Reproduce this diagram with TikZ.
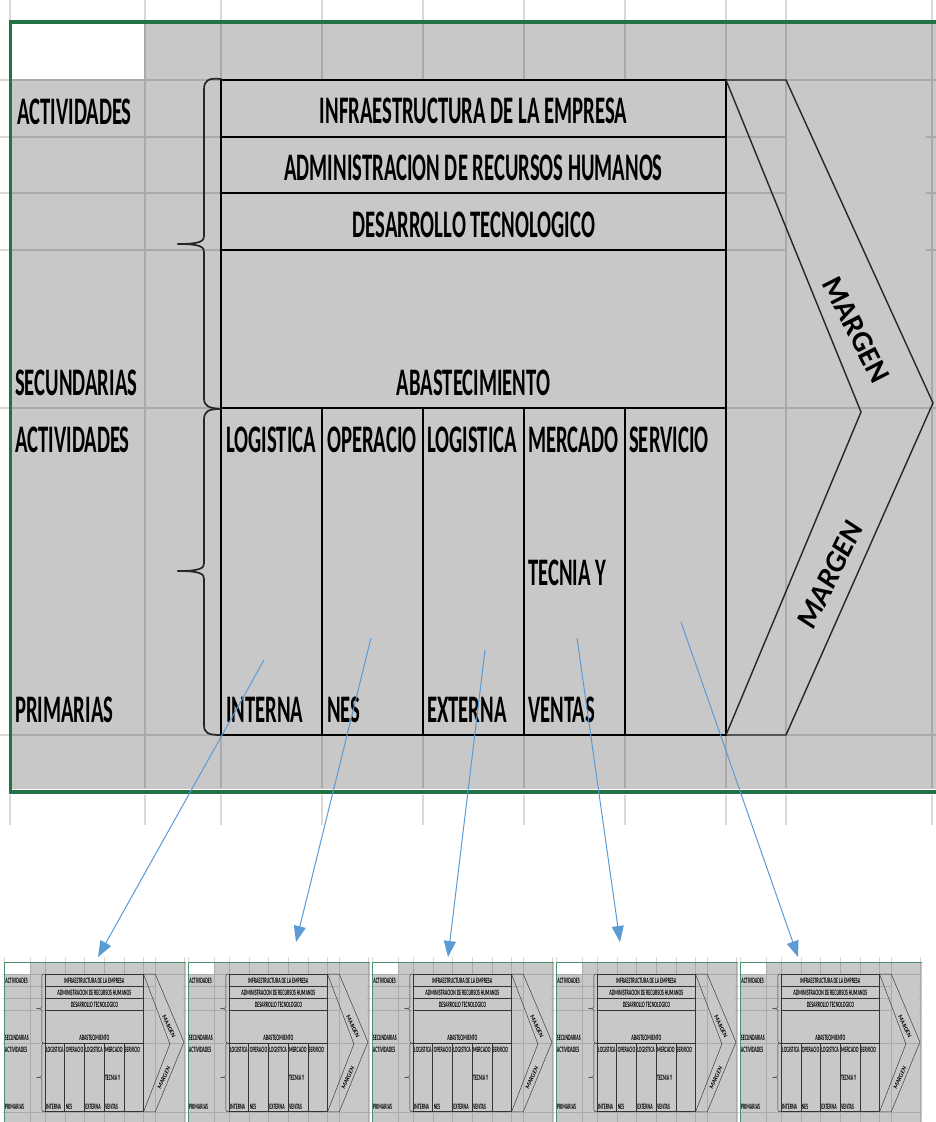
\documentclass[tikz,border=0pt]{standalone}
\usepackage{fontspec}
\setmainfont{Carlito}
\usepackage{graphicx}
\usetikzlibrary{arrows.meta}
\definecolor{cellgray}{HTML}{C8C8C8}
\definecolor{gridgray}{HTML}{AAAAAA}
\definecolor{outgray}{HTML}{D8D8D8}
\definecolor{xlgreen}{HTML}{217346}
\definecolor{arrowblue}{HTML}{5B9BD5}
\newcommand\cond[1]{\scalebox{0.53}[1]{#1}}
\tikzset{
 gridline/.style={draw=gridgray, line width=1.2pt},
 outgrid/.style={draw=outgray, line width=1.2pt},
 boxline/.style={draw=black, line width=2pt},
 chevline/.style={draw=black!85, line width=1.4pt},
 braceline/.style={draw=black!85, line width=1.7pt, line cap=round},
 greenline/.style={draw=xlgreen, line width=4pt},
 greenleft/.style={draw=xlgreen, line width=3pt},
 lbl/.style={inner sep=0pt, font=\bfseries\fontsize{39}{40}\selectfont},
 mlbl/.style={inner sep=0pt, font=\bfseries\fontsize{30}{32}\selectfont},
 flow/.style={draw=arrowblue, line width=1pt, -{Triangle[length=16pt,width=12pt]}},
}
\newcommand\vcdiag[1]{%
 \foreach \x in {10,145,221,322,423,524,625,726,786,932}{\draw[outgrid] (\x,0) -- (\x,22) (\x,795) -- (\x,825);}
 \foreach \y in {80,137,193,250,408,735}{\draw[outgrid] (0,\y) -- (10,\y);}
 \fill[cellgray] (11,23) rectangle (943,789);
 \fill[white] (11,23) rectangle (145,79);
 \foreach \x in {145,221,322,423,524,625,726,786,932}{\draw[gridline] (\x,24) -- (\x,788);}
 \foreach \y in {80,408,735}{\draw[gridline] (12,\y) -- (943,\y);}
 \foreach \y in {137,193,250}{\draw[gridline] (12,\y) -- (786,\y); \draw[gridline] (926,\y) -- (943,\y);}
 % main box
 \fill[cellgray] (221,80) rectangle (726,735);
 \draw[boxline] (221,80) rectangle (726,735);
 \draw[boxline] (221,137) -- (726,137) (221,193) -- (726,193) (221,250) -- (726,250) (221,408) -- (726,408);
 \draw[boxline] (322,408) -- (322,735) (423,408) -- (423,735) (524,408) -- (524,735) (625,408) -- (625,735);
 % chevron
 \draw[chevline, line join=miter] (726,80) -- (786,80) -- (933,403) -- (786,735) -- (726,735);
 \draw[chevline] (726,80) -- (861,412) -- (726,735);
 % braces
 \draw[braceline] (221,79) .. controls (208,78) and (204,80) .. (204,90) -- (204,236) .. controls (204,241) and (201,244) .. (178,244);
 \draw[braceline] (178,244) .. controls (201,244) and (204,247) .. (204,252) -- (204,398) .. controls (204,406) and (208,408) .. (221,409);
 \draw[braceline] (221,409) .. controls (208,409) and (204,411) .. (204,420) -- (204,563) .. controls (204,568) and (201,571) .. (178,571);
 \draw[braceline] (178,571) .. controls (201,571) and (204,574) .. (204,579) -- (204,725) .. controls (204,733) and (208,735) .. (221,735);
 % green frame
 \draw[greenline] (9,22) -- (945,22);
 \draw[greenline] (9,792) -- (945,792);
 \draw[greenleft] (10,20) -- (10,794);
 % left labels
 \node[lbl, anchor=base west] (#1-act1) at (17,124) {\cond{ACTIVIDADES}};
 \node[lbl, anchor=base west] (#1-sec) at (15,395) {\cond{SECUNDARIAS}};
 \node[lbl, anchor=base west] (#1-act2) at (15,452) {\cond{ACTIVIDADES}};
 \node[lbl, anchor=base west] (#1-prim) at (15,722) {\cond{PRIMARIAS}};
 % support activities
 \node[lbl, anchor=base] (#1-infra) at (473.5,123) {\cond{INFRAESTRUCTURA DE LA EMPRESA}};
 \node[lbl, anchor=base] (#1-rrhh) at (473.5,180) {\cond{ADMINISTRACION DE RECURSOS HUMANOS}};
 \node[lbl, anchor=base] (#1-tec) at (474,237) {\cond{DESARROLLO TECNOLOGICO}};
 \node[lbl, anchor=base] (#1-abas) at (473.5,395) {\cond{ABASTECIMIENTO}};
 % primary activities
 \node[lbl, anchor=base west] (#1-c1a) at (226,452) {\cond{LOGISTICA}};
 \node[lbl, anchor=base west] (#1-c2a) at (327,452) {\cond{OPERACIO}};
 \node[lbl, anchor=base west] (#1-c3a) at (427,452) {\cond{LOGISTICA}};
 \node[lbl, anchor=base west] (#1-c4a) at (528,452) {\cond{MERCADO}};
 \node[lbl, anchor=base west] (#1-c5a) at (629,452) {\cond{SERVICIO}};
 \node[lbl, anchor=base west] (#1-c4b) at (528,585) {\cond{TECNIA Y}};
 \node[lbl, anchor=base west] (#1-c1c) at (226,722) {\cond{INTERNA}};
 \node[lbl, anchor=base west] (#1-c2c) at (327,722) {\cond{NES}};
 \node[lbl, anchor=base west] (#1-c3c) at (427,722) {\cond{EXTERNA}};
 \node[lbl, anchor=base west] (#1-c4c) at (528,722) {\cond{VENTAS}};
 % margin
 \node[mlbl, rotate=-63] (#1-marg1) at (856,330) {MARGEN};
 \node[mlbl, rotate=64, font=\bfseries\itshape\fontsize{30}{32}\selectfont] (#1-marg2) at (830,575) {MARGEN};
}
\begin{document}
\begin{tikzpicture}[x=1pt, y=-1pt]
\useasboundingbox (0,0) rectangle (935,1122);
\fill[white] (0,0) rectangle (935,1122);
\vcdiag{m}
\foreach \k in {0,...,4}{
 \begin{scope}[shift={({2+184*\k},957.4)}, xscale=0.195, yscale=0.21, transform shape,
   gridline/.style={draw=gridgray, line width=0.3pt},
   outgrid/.style={draw=outgray, line width=0.3pt},
   boxline/.style={draw=black!80, line width=0.6pt},
   chevline/.style={draw=black!80, line width=0.45pt},
   braceline/.style={draw=black!80, line width=0.45pt},
   greenline/.style={draw=xlgreen!80, line width=1pt},
   greenleft/.style={draw=xlgreen!80, line width=0.8pt}]
  \clip (0,0) rectangle (943,790);
  \vcdiag{t\k}
 \end{scope}
}
\coordinate (s1) at (264,660);
\coordinate (s2) at (371,638);
\coordinate (s3) at (485,650);
\coordinate (s4) at (577,638);
\coordinate (s5) at (681,622);
\coordinate (e1) at (98,957);
\coordinate (e2) at (296,942);
\coordinate (e3) at (448,957);
\coordinate (e4) at (620,942);
\coordinate (e5) at (798,957);
\draw[flow] (s1) -- (e1);
\draw[flow] (s2) -- (e2);
\draw[flow] (s3) -- (e3);
\draw[flow] (s4) -- (e4);
\draw[flow] (s5) -- (e5);
\end{tikzpicture}
\end{document}
